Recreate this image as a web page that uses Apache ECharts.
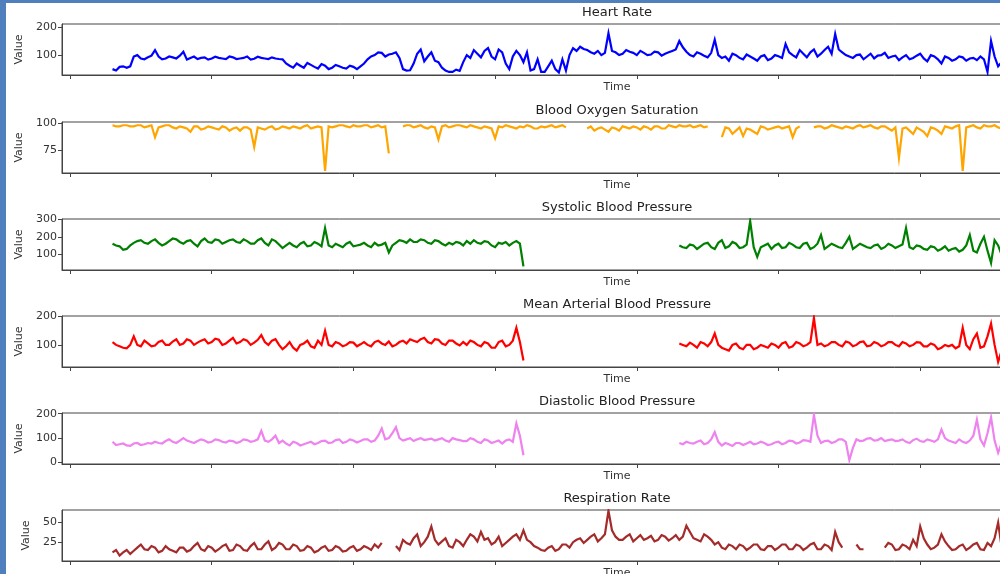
<!DOCTYPE html>
<html><head><meta charset="utf-8">
<script src="https://cdn.jsdelivr.net/npm/echarts@6/dist/echarts.min.js"></script>
<style>html,body{margin:0;padding:0;background:#fff;width:1000px;height:574px;overflow:hidden}#c{width:1200px;height:600px}</style>
</head><body><div id="c"></div>
<script>
const titles = ['Heart Rate','Blood Oxygen Saturation','Systolic Blood Pressure','Mean Arterial Blood Pressure','Diastolic Blood Pressure','Respiration Rate'];
const xTicks = [0,1,2,3,4,5,6,7];
const timeStart = 0.30, timeStep = 0.05;

// main readings (one per timeStep)
const heartRate = [
 50,58,55,95,88,92,118,85,95,88,
 112,90,86,92,88,90,86,92,88,95,
 87,90,86,88,85,62,70,55,65,52,
 62,55,60,52,58,60,85,100,108,102,
 110,50,46,105,78,110,75,45,40,44,
 100,118,92,125,85,110,50,115,75,45,
 85,40,80,38,45,125,130,118,105,100,
 178,110,105,112,100,108,102,110,105,115,
 150,112,95,105,92,155,90,80,100,85,
 95,80,100,88,96,140,100,118,92,120,
 105,130,175,110,95,100,85,105,98,108,
 95,82,100,90,105,78,95,70,90,85,
 92,88,82,85,150,60,90];
// in-between readings (half a step after each main reading)
const heartRateMid = [
 45,60,60,100,85,98,95,88,92,98,
 84,95,90,84,94,88,95,86,90,84,
 94,88,92,86,70,55,62,72,58,68,
 50,65,55,62,50,70,95,110,95,105,
 90,45,70,120,95,80,55,40,48,75,
 90,105,115,95,120,70,95,100,110,50,
 40,60,50,85,100,115,122,110,115,108,
 115,100,118,108,115,100,112,98,110,120,
 128,100,110,98,108,100,95,105,90,102,
 88,95,82,100,90,110,92,105,110,95,
 118,105,120,100,90,102,95,88,100,90,
 98,92,85,98,88,100,85,95,80,95,
 80,90,95,40,95,75];

const spo2 = [
 98,97,98,97,98,97,87,97,98,95,
 96,92,97,95,96,94,96,95,93,96,
 78,95,96,94,97,95,96,97,95,97,
 56,96,98,97,98,97,98,97,96,72,
 null,97,98,97,96,97,85,98,97,98,
 96,97,95,96,86,96,97,95,96,97,
 95,96,98,97,96,null,null,95,93,96,
 92,95,97,95,96,97,94,97,95,97,
 98,97,96,98,97,null,87,95,93,88,
 94,90,96,95,97,96,87,97,null,96,
 97,96,97,95,96,97,96,98,95,97,
 93,68,96,90,94,88,95,90,96,97,
 56,97,96,98,97,96,97];
const spo2Mid = [
 97,98,97,98,96,98,96,98,96,97,
 95,97,94,97,95,97,93,96,96,94,
 96,94,97,95,96,97,95,98,96,96,
 97,97,98,96,97,98,96,98,97,null,
 null,98,96,98,95,96,97,96,98,97,
 98,96,97,95,97,98,96,97,98,95,
 97,97,96,98,null,null,null,97,95,94,
 96,93,96,97,94,96,97,95,98,96,
 97,98,97,96,null,null,96,90,96,95,
 92,97,94,96,95,97,95,null,null,97,
 95,98,96,97,95,98,97,96,97,95,
 96,95,93,96,92,96,93,97,95,98,
 96,98,95,97,98,95];

const systolic = [
 160,145,130,165,180,160,185,150,175,185,
 160,180,145,190,165,180,170,185,165,175,
 160,190,150,175,135,165,140,170,150,160,
 250,140,150,160,145,155,150,165,155,110,
 165,175,185,170,180,160,175,150,155,165,
 175,180,160,170,140,160,150,175,30,null,
 null,null,null,null,null,null,null,null,null,null,
 null,null,null,null,null,null,null,null,null,null,
 150,135,150,145,165,130,180,145,160,140,
 290,85,150,130,160,140,155,135,165,140,
 210,145,150,135,200,145,150,135,155,140,
 150,145,250,130,145,125,140,130,120,135,
 125,210,110,200,50,150,120];
const systolicMid = [
 150,125,150,175,165,175,165,160,190,170,
 175,160,175,170,185,160,180,170,185,160,
 180,165,185,155,150,150,160,145,170,145,
 150,160,140,170,150,165,140,150,165,150,
 180,165,170,185,165,180,160,165,170,150,
 160,165,175,150,165,170,165,160,null,null,
 null,null,null,null,null,null,null,null,null,null,
 null,null,null,null,null,null,null,null,null,null,
 140,155,130,160,140,165,135,170,135,155,
 140,140,160,150,135,165,140,160,130,160,
 130,160,140,165,130,160,140,150,130,160,
 135,155,140,150,130,145,120,145,130,115,
 150,120,160,120,180,95];

const meanArterial = [
 110,95,88,130,95,105,98,115,100,120,
 105,115,108,120,110,118,105,125,110,115,
 108,135,100,120,85,110,80,105,95,115,
 150,95,105,100,108,102,100,110,105,112,
 100,115,120,110,125,105,118,100,115,98,
 100,110,95,105,90,115,100,160,45,null,
 null,null,null,null,null,null,null,null,null,null,
 null,null,null,null,null,null,null,null,null,null,
 105,95,100,110,95,140,90,80,105,85,
 100,90,95,105,90,110,95,105,100,195,
 105,100,110,95,108,100,112,98,105,100,
 110,95,105,100,108,95,100,90,95,88,
 160,85,140,95,175,40,110];
const meanArterialMid = [
 100,90,100,100,115,95,110,100,112,100,
 120,100,115,105,122,100,115,105,120,100,
 118,110,115,100,95,90,100,115,90,100,
 100,110,95,110,95,110,95,115,100,95,
 110,105,115,120,110,120,105,115,105,110,
 115,100,110,90,110,95,115,110,null,null,
 null,null,null,null,null,null,null,null,null,null,
 null,null,null,null,null,null,null,null,null,null,
 100,108,90,105,110,100,85,100,90,100,
 85,100,90,100,105,90,110,95,110,100,
 95,110,100,112,95,110,95,110,95,110,
 100,110,95,110,95,105,85,100,100,95,
 100,120,90,130,100,80];

const diastolic = [
 85,75,70,78,72,80,85,78,95,80,
 100,85,88,90,85,92,82,88,85,92,
 88,130,85,110,90,70,80,75,85,80,
 90,82,95,85,90,88,95,90,140,100,
 145,90,100,95,92,98,95,90,100,92,
 88,95,80,90,85,78,95,160,30,null,
 null,null,null,null,null,null,null,null,null,null,
 null,null,null,null,null,null,null,null,null,null,
 80,85,78,90,80,125,70,75,80,72,
 85,78,80,75,85,80,88,82,90,195,
 80,90,85,95,10,95,90,100,92,88,
 95,90,85,92,88,95,85,135,90,80,
 85,90,175,70,185,40,90];
const diastolicMid = [
 72,78,68,80,75,78,80,88,85,90,
 90,80,95,82,95,85,90,80,95,85,
 95,90,95,80,78,85,70,80,75,88,
 80,92,80,95,82,95,85,110,95,120,
 100,95,88,100,95,90,100,85,95,88,
 100,85,95,80,90,90,85,110,null,null,
 null,null,null,null,null,null,null,null,null,null,
 null,null,null,null,null,null,null,null,null,null,
 75,80,85,75,95,85,80,68,80,78,
 75,85,72,82,75,90,78,92,85,110,
 88,80,95,85,60,88,98,90,100,92,
 88,95,80,98,85,90,95,100,85,95,
 80,110,95,120,90,80];

const respiration = [
 12,8,15,14,22,15,18,14,16,12,
 18,15,24,14,18,16,22,15,20,14,
 24,16,26,18,22,16,20,15,18,14,
 20,15,18,14,20,16,18,22,24,null,
 20,28,22,35,25,45,22,30,18,25,
 28,32,38,30,25,20,28,35,40,25,
 18,14,20,16,22,25,30,28,35,30,
 65,32,28,35,30,28,33,28,32,30,
 28,46,30,26,32,22,18,22,16,20,
 18,22,15,20,18,22,16,20,18,24,
 16,20,38,18,null,22,16,null,null,18,
 22,16,20,28,45,22,18,35,20,16,
 22,18,24,15,20,50,22];
const respirationMid = [
 15,12,10,18,16,20,12,20,14,18,
 13,20,16,20,13,20,14,22,15,20,
 16,22,15,24,16,22,14,20,12,18,
 14,20,13,18,14,20,15,18,null,null,
 15,24,30,20,32,28,26,20,28,20,
 35,26,28,22,32,24,32,28,28,20,
 15,18,14,22,18,28,24,32,26,35,
 40,28,32,26,34,30,26,34,27,34,
 32,38,28,35,28,25,16,20,22,15,
 22,16,20,15,22,16,22,15,22,16,
 22,15,25,null,null,16,null,null,null,24,
 15,22,16,20,30,16,22,26,15,20,
 15,22,16,24,30,18];

const seriesValues = [heartRate, spo2, systolic, meanArterial, diastolic, respiration];
const seriesMids = [heartRateMid, spo2Mid, systolicMid, meanArterialMid, diastolicMid, respirationMid];
const yMin = [29, 54, 9, 22, -6, 1];
const yMax = [211, 101, 302, 202, 203, 66];
const yTicks = [[100,200],[75,100],[100,200,300],[100,200],[0,100,200],[25,50]];
const colors = ['#0000ff','#ffa500','#008000','#ff0000','#ee82ee','#a52a2a'];

const FONT = 'DejaVu Sans';
const tops = [24, 122, 219, 316, 413, 510];
const gridLeft = 62, gridWidth = 1110, gridHeight = 51;
const axisColor = '#444';

function buildData(vals, mids) {
  const out = [];
  for (let k = 0; k < vals.length; k++) {
    const t = timeStart + k * timeStep;
    out.push([t, vals[k]]);
    if (k < mids.length) out.push([t + timeStep / 2, mids[k]]);
  }
  return out;
}

const grids = [], xAxes = [], yAxes = [], series = [], graphics = [];
for (let i = 0; i < 6; i++) {
  grids.push({left: gridLeft, top: tops[i], width: gridWidth, height: gridHeight,
    outerBoundsMode: 'none', containLabel: false,
    show: true, borderColor: axisColor, borderWidth: 1, backgroundColor: 'transparent'});
  xAxes.push({gridIndex: i, type: 'value', min: -0.0565, max: 7.777,
    name: 'Time', nameLocation: 'middle', nameGap: 7,
    nameTextStyle: {fontSize: 11, color: '#333', fontFamily: FONT, verticalAlign: 'top'},
    axisLine: {show: true, onZero: false, lineStyle: {color: axisColor, width: 1}},
    axisTick: {show: true, length: 4, customValues: xTicks, lineStyle: {color: axisColor}},
    axisLabel: {show: false, customValues: xTicks},
    splitLine: {show: false}});
  yAxes.push({gridIndex: i, type: 'value', min: yMin[i], max: yMax[i],
    name: 'Value', nameLocation: 'middle', nameGap: 24,
    nameTextStyle: {fontSize: 11, color: '#333', fontFamily: FONT},
    axisLine: {show: true, onZero: false, lineStyle: {color: axisColor, width: 1}},
    axisTick: {show: true, length: 4, customValues: yTicks[i], lineStyle: {color: axisColor}},
    axisLabel: {customValues: yTicks[i], fontSize: 11, color: '#333', fontFamily: FONT, margin: 5},
    splitLine: {show: false}});
  series.push({type: 'line', xAxisIndex: i, yAxisIndex: i, showSymbol: false, symbol: 'none',
    connectNulls: false, animation: false,
    lineStyle: {color: colors[i], width: 2.2, join: 'miter'}, itemStyle: {color: colors[i]},
    data: buildData(seriesValues[i], seriesMids[i])});
  graphics.push({type: 'text', x: 617, y: tops[i] - 11,
    style: {text: titles[i], textAlign: 'center', textVerticalAlign: 'middle',
      fontSize: 13, fontFamily: FONT, fill: '#222'}});
}
graphics.push({type: 'rect', shape: {x: 0, y: 0, width: 6, height: 600}, style: {fill: '#4f7fbd'}});
graphics.push({type: 'rect', shape: {x: 0, y: 0, width: 1200, height: 3}, style: {fill: '#4f7fbd'}});

const chart = echarts.init(document.getElementById('c'), null, {renderer: 'canvas'});
chart.setOption({animation: false, backgroundColor: '#fff', grid: grids, xAxis: xAxes, yAxis: yAxes, series: series, graphic: graphics});
</script></body></html>
